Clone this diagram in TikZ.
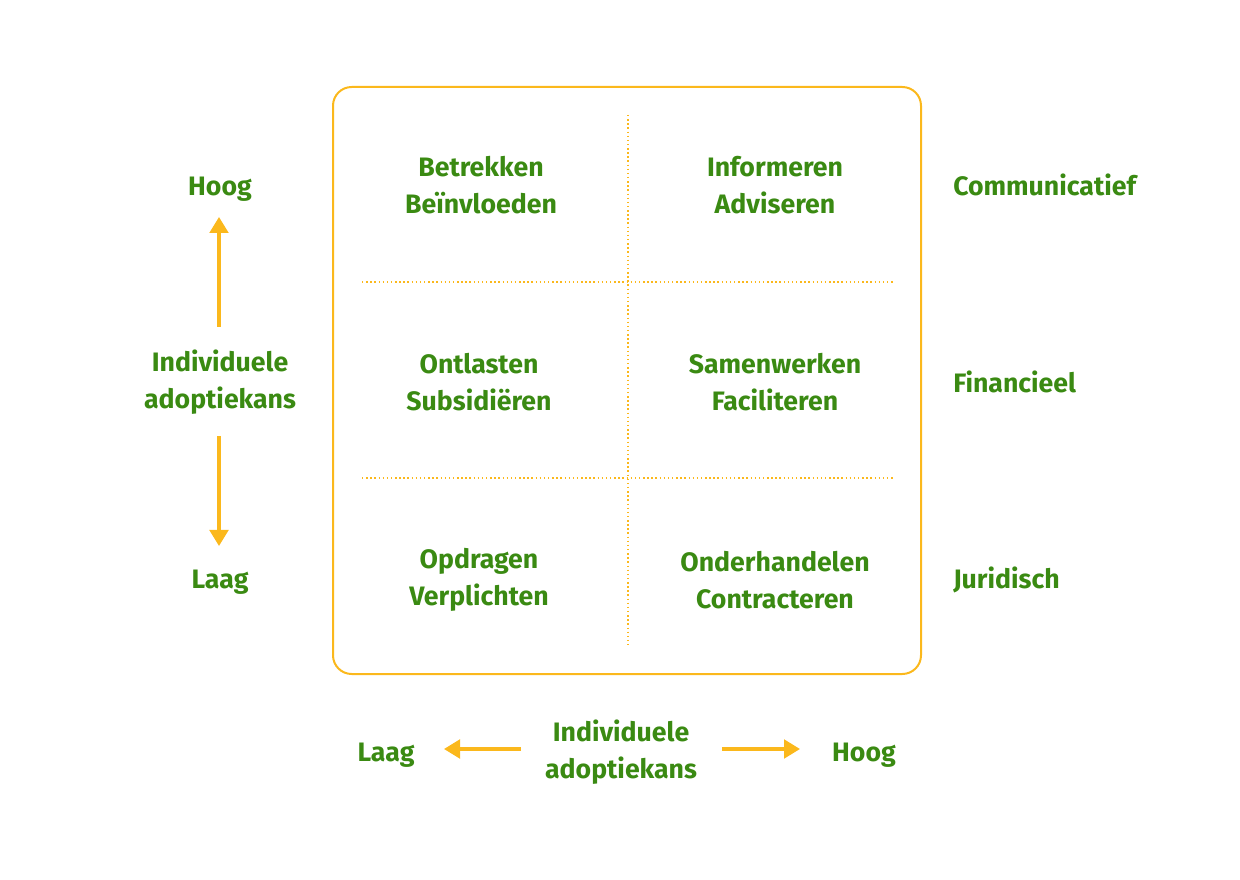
\documentclass[tikz,border=0pt]{standalone}
\usepackage{fontspec}
\setmainfont{Fira Sans}
\usetikzlibrary{arrows.meta}
\definecolor{ggreen}{HTML}{3A8A12}
\definecolor{gold}{HTML}{FBB81C}
\tikzset{
  lbl/.style={text=ggreen, font=\fontsize{20}{28}\selectfont\bfseries, align=center, inner sep=0pt},
  rlbl/.style={lbl, anchor=west},
  frame/.style={draw=gold, line width=1.5pt, rounded corners=14pt},
  grid/.style={draw=gold, line width=1.1pt, dotted},
  axis/.style={draw=gold, line width=2.3pt, -{Triangle[length=12pt,width=14pt]}}
}
\begin{document}
\begin{tikzpicture}[x=0.75pt,y=-0.75pt]
\useasboundingbox (0,0) rectangle (1240,880);
\draw[frame] (333,87) rectangle (921,674);
\draw[grid] (628,115) -- (628,645);
\draw[grid] (362,282) -- (893,282);
\draw[grid] (362,478) -- (893,478);

\node[lbl] (c11) at (481,185) {Betrekken\\Beïnvloeden};
\node[lbl] (c12) at (775,185) {Informeren\\Adviseren};
\node[lbl] (c21) at (479,382) {Ontlasten\\Subsidiëren};
\node[lbl] (c22) at (775,382) {Samenwerken\\Faciliteren};
\node[lbl] (c31) at (479,580) {Opdragen\\Verplichten};
\node[lbl] (c32) at (775,580) {Onderhandelen\\Contracteren};

\node[rlbl] (r1) at (953,185) {Communicatief};
\node[rlbl] (r2) at (953,382) {Financieel};
\node[rlbl] (r3) at (953,580) {Juridisch};

\node[lbl] (lh) at (220,189) {Hoog};
\node[lbl] (lm) at (220,382) {Individuele\\adoptiekans};
\node[lbl] (ll) at (220,582) {Laag};

\node[lbl] (bl) at (386,755) {Laag};
\node[lbl] (bm) at (621,752) {Individuele\\adoptiekans};
\node[lbl] (bh) at (864,755) {Hoog};

\coordinate (ua) at (219,327);
\coordinate (ut) at (219,217);
\coordinate (da) at (219,436);
\coordinate (dt) at (219,546);
\coordinate (la) at (521,749);
\coordinate (lt) at (444,749);
\coordinate (ra) at (722,749);
\coordinate (rt) at (800,749);
\draw[axis] (ua) -- (ut);
\draw[axis] (da) -- (dt);
\draw[axis] (la) -- (lt);
\draw[axis] (ra) -- (rt);
\end{tikzpicture}
\end{document}
